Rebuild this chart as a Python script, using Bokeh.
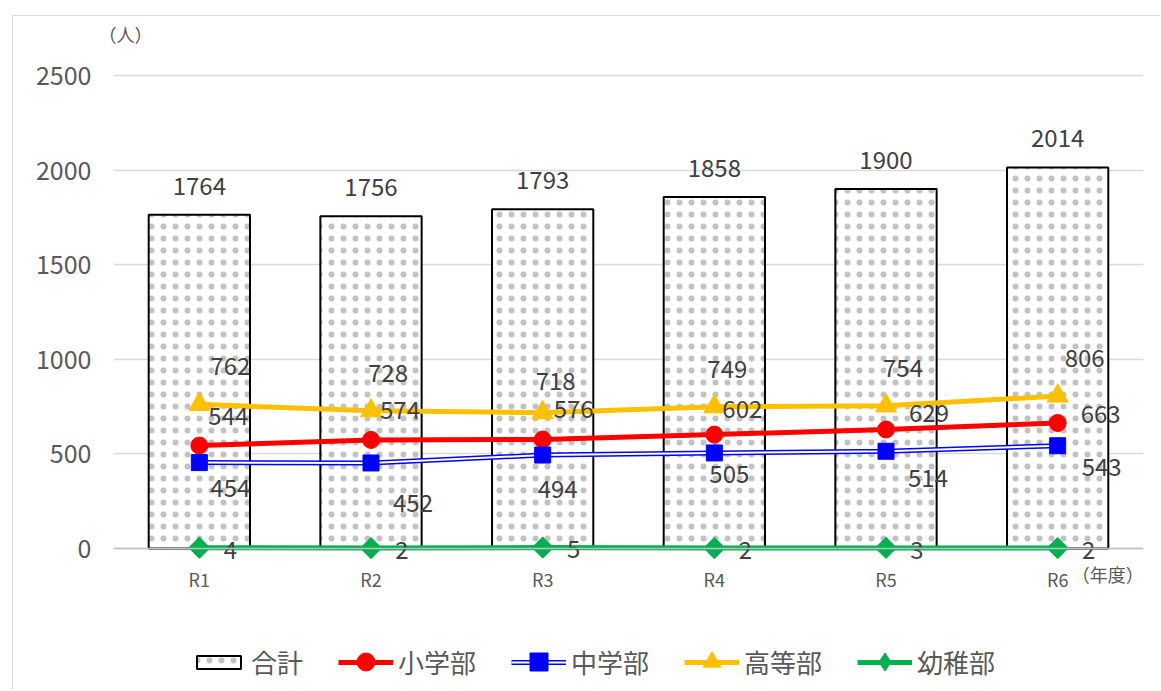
import numpy as np
from bokeh.plotting import figure
from bokeh.models import (FactorRange, Range1d, ColumnDataSource, Legend, LegendItem,
                          Span, FixedTicker)
from bokeh.core.properties import value
from bokeh.embed import file_html
from bokeh.resources import INLINE

years = ["R1", "R2", "R3", "R4", "R5", "R6"]
total = [1764, 1756, 1793, 1858, 1900, 2014]
elementary = [544, 574, 576, 602, 629, 663]
junior = [454, 452, 494, 505, 514, 543]
senior = [762, 728, 718, 749, 754, 806]
kinder = [4, 2, 5, 2, 3, 2]
series_names = ["合計", "小学部", "中学部", "高等部", "幼稚部"]

# label offsets (pixels) for data labels
senior_dx = [31, 17, 13, 13, 17, 27]
senior_dy = [-38, -38, -32, -38, -38, -38]
elem_dx = [29, 29, 31, 28, 43, 43]
elem_dy = [-30, -30, -31, -26, -16, -9]
jun_dx = [31, 42, 15, 15, 42, 44]
jun_dy = [25, 40, 34, 21, 27, 21]
kin_dx = [31, 31, 31, 31, 31, 31]
kin_dy = [2, 2, 1, 2, 2, 2]

FONT = "Noto Sans CJK JP"
GREY = "#595959"
LABEL = "#404040"

PX = 473 / 2500          # pixels per unit: 0 -> y 548, 2500 -> y 75 on page
FRAME_TOP = 46
p = figure(x_range=FactorRange(*years, range_padding=0),
           y_range=Range1d(-(691 - 548) / PX, (548 - FRAME_TOP) / PX),
           width=1148, height=675, output_backend="svg", toolbar_location=None,
           min_border_left=100, min_border_right=18, min_border_top=FRAME_TOP - 16,
           min_border_bottom=0,
           styles={"margin-left": "12px", "margin-top": "15px",
                   "border-left": "1px solid #d9d9d9", "border-top": "1px solid #d9d9d9"})
p.title.text = "（人）"
p.title.align = "left"
p.title.offset = -15
p.title.standoff = 0
p.title.text_font = FONT
p.title.text_font_size = "18px"
p.title.text_font_style = "normal"
p.title.text_color = GREY

p.outline_line_color = None
p.xgrid.grid_line_color = None
p.ygrid.grid_line_color = "#d9d9d9"
p.ygrid.grid_line_width = 1.5
p.yaxis.ticker = FixedTicker(ticks=[0, 500, 1000, 1500, 2000, 2500])
p.yaxis.axis_line_color = None
p.yaxis.major_tick_line_color = None
p.yaxis.minor_tick_line_color = None
p.yaxis.major_label_standoff = 16
p.yaxis.major_label_text_font = FONT
p.yaxis.major_label_text_font_size = "25px"
p.yaxis.major_label_text_color = GREY
p.xaxis.visible = False

p.add_layout(Span(location=0, dimension="width", line_color="#bfbfbf", line_width=1.5))

src = ColumnDataSource(dict(x=years, total=total, elem=elementary, jun=junior, sen=senior,
                            kin=kinder, zero=[0] * len(years),
                            total_s=[str(v) for v in total], elem_s=[str(v) for v in elementary],
                            jun_s=[str(v) for v in junior], sen_s=[str(v) for v in senior],
                            kin_s=[str(v) for v in kinder],
                            sdx=senior_dx, sdy=senior_dy, edx=elem_dx, edy=elem_dy,
                            jdx=jun_dx, jdy=jun_dy, kdx=kin_dx, kdy=kin_dy))

bars = p.vbar(x="x", top="total", bottom=0, width=0.59, source=src, fill_color="white",
              line_color="black", line_width=2, hatch_pattern="dot", hatch_scale=12,
              hatch_weight=0.6, hatch_color="#9a9a9a", hatch_alpha=0.6)

# lines
r_el = p.line("x", "elem", source=src, line_color="#FF0000", line_width=5)
m_el = p.scatter("x", "elem", source=src, marker="circle", size=17, fill_color="#FF0000",
                 line_color="#FF0000")
r_j1 = p.line("x", "jun", source=src, line_color="#0000FF", line_width=5)
r_j2 = p.line("x", "jun", source=src, line_color="white", line_width=2)
m_j = p.scatter("x", "jun", source=src, marker="square", size=16, fill_color="#0000FF",
                line_color="#0000FF")
r_s = p.line("x", "sen", source=src, line_color="#FFC000", line_width=5)
m_s = p.scatter("x", "sen", source=src, marker="triangle", size=21, fill_color="#FFC000",
                line_color="#FFC000")
r_k = p.line("x", "kin", source=src, line_color="#00B050", line_width=5)
m_k_leg = p.scatter("x", "kin", source=src, marker="diamond", size=20, fill_color="#00B050",
                    line_color="#00B050")
m_k = p.scatter("x", "kin", source=src, marker="square", angle=np.pi / 4, size=15,
                fill_color="#00B050", line_color="#00B050")
# legend-only placeholder (no data)
blank = p.scatter(x=[], y=[], size=0, fill_alpha=0, line_alpha=0)

common = dict(source=src, text_font=value(FONT), text_font_size="24px", text_color=LABEL,
              text_align="center", text_baseline="middle")
p.text("x", "total", text="total_s", y_offset=-29, **common)
p.text("x", "sen", text="sen_s", x_offset="sdx", y_offset="sdy", **common)
p.text("x", "elem", text="elem_s", x_offset="edx", y_offset="edy", **common)
p.text("x", "jun", text="jun_s", x_offset="jdx", y_offset="jdy", **common)
p.text("x", "kin", text="kin_s", x_offset="kdx", y_offset="kdy", **common)

# category labels (x axis)
p.text("x", "zero", text="x", source=src, y_offset=30, text_font=value(FONT),
       text_font_size="18px", text_color=GREY, text_align="center", text_baseline="middle")
p.text(x=[years[-1]], y=[0], text=["（年度）"], x_offset=86, y_offset=25,
       text_font=value(FONT), text_font_size="18px", text_color=GREY,
       text_align="right", text_baseline="middle")

leg_common = dict(orientation="horizontal", glyph_width=55, label_text_font=FONT,
                  label_text_font_size="26px", label_standoff=5, spacing=35,
                  border_line_color=None, background_fill_alpha=0, margin=0, padding=5)
line_groups = [[bars], [r_el], [r_j1, r_j2], [r_s], [r_k]]
marker_groups = [[blank], [m_el], [m_j], [m_s], [m_k_leg]]
legend = Legend(items=[LegendItem(label=n, renderers=g) for n, g in zip(series_names, line_groups)],
                location=(78, 11), glyph_height=16, label_text_color=GREY, **leg_common)
legend_m = Legend(items=[LegendItem(label=n, renderers=g) for n, g in zip(series_names, marker_groups)],
                  location=(78, 7), glyph_height=45, label_text_alpha=0, **leg_common)
p.add_layout(legend)
p.add_layout(legend_m)

open("out.html", "w").write(file_html(p, INLINE))
